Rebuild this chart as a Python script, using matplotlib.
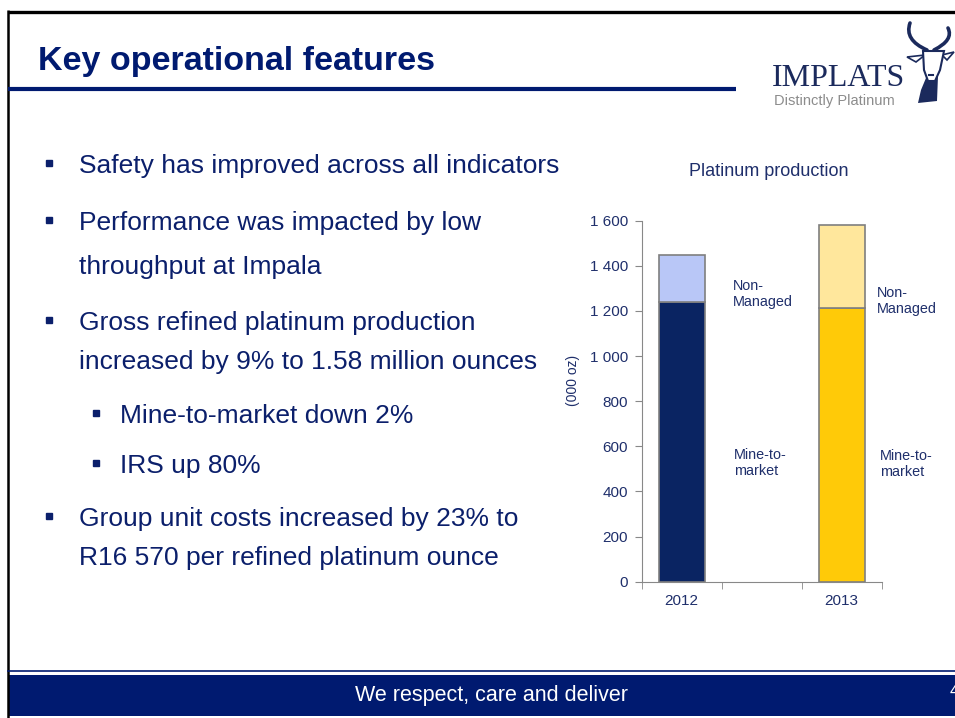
import numpy as np
import matplotlib
matplotlib.use('Agg')
import matplotlib.pyplot as plt
from matplotlib.patches import Rectangle, PathPatch, Polygon
from matplotlib.path import Path
from matplotlib.ticker import FuncFormatter

plt.rcParams['font.family'] = ['Liberation Sans', 'DejaVu Sans']

# chart data (000 oz)
years = ['2012', '', '2013']
mine_to_market = [1240, np.nan, 1212]
non_managed = [210, np.nan, 369]
y_ticks = [0, 200, 400, 600, 800, 1000, 1200, 1400, 1600]

# slide text
title = 'Key operational features'
bullet_lines = [
    (0, True, 'Safety has improved across all indicators'),
    (0, True, 'Performance was impacted by low'),
    (0, False, 'throughput at Impala'),
    (0, True, 'Gross refined platinum production'),
    (0, False, 'increased by 9% to 1.58 million ounces'),
    (1, True, 'Mine-to-market down 2%'),
    (1, True, 'IRS up 80%'),
    (0, True, 'Group unit costs increased by 23% to'),
    (0, False, 'R16 570 per refined platinum ounce'),
]
line_baselines = [173, 230, 274, 330, 369, 423, 473, 526, 565]
footer = 'We respect, care and deliver'

navy = '#001A70'
text_navy = '#0B1F6B'
chart_navy = '#1F2F6B'
logo_navy = '#1B2A5C'

fig = plt.figure(figsize=(9.55, 7.18), dpi=100)

# background layer in pixel coordinates
bg = fig.add_axes([0, 0, 1, 1])
bg.set_xlim(0, 955)
bg.set_ylim(718, 0)
bg.axis('off')

# slide frame
bg.plot([8, 8], [10, 718], color='black', lw=1.8, solid_capstyle='butt')
bg.plot([8, 955], [11.5, 11.5], color='black', lw=2.4, solid_capstyle='butt')
bg.plot([8, 736], [89, 89], color=navy, lw=3, solid_capstyle='butt')

bg.text(38, 70, title, fontsize=24.5, fontweight='bold', color=navy, va='baseline')

# logo
bg.text(772, 86, 'IMPLATS', fontsize=23, color=logo_navy, va='baseline',
        family=['Liberation Serif', 'DejaVu Serif'])
bg.text(774, 101, 'Distinctly Platinum', fontsize=10.5, color='#8C8C8C', va='center')
horn_l = Path([(927, 50), (904, 40), (910, 23)], [Path.MOVETO, Path.CURVE3, Path.CURVE3])
horn_r = Path([(934, 50), (954, 40), (948, 28)], [Path.MOVETO, Path.CURVE3, Path.CURVE3])
for p in (horn_l, horn_r):
    bg.add_patch(PathPatch(p, fc='none', ec=logo_navy, lw=2.6, capstyle='round'))
bg.add_patch(Polygon([(926, 78), (938, 76), (937, 101), (918, 103), (921, 90)],
                     closed=True, fc=logo_navy, ec='none'))
bg.add_patch(Polygon([(925, 55), (907, 57), (916, 62)], closed=True, fc='white', ec=logo_navy, lw=1.2))
bg.add_patch(Polygon([(942, 55), (954, 52), (947, 60)], closed=True, fc='white', ec=logo_navy, lw=1.2))
bg.add_patch(Polygon([(923, 51), (944, 51), (940, 70), (935, 81), (928, 81), (924, 70)],
                     closed=True, fc='white', ec=logo_navy, lw=1.5))
bg.plot([929, 933], [75, 75], color=logo_navy, lw=1.5)

# bullets
for (level, has_marker, line), yb in zip(bullet_lines, line_baselines):
    tx = 79 if level == 0 else 120
    mx = 48.5 if level == 0 else 96
    if has_marker:
        bg.plot(mx, yb - 10, marker='s', ms=4.8, color=text_navy, mec=text_navy)
    bg.text(tx, yb, line, fontsize=19, color=text_navy, va='baseline')

# footer
bg.plot([8, 955], [671, 671], color=navy, lw=1.2)
bg.add_patch(Rectangle((8, 675), 947, 41, fc=navy, ec='none'))
bg.text(491, 696, footer, fontsize=15.5, color='white', ha='center', va='center')
bg.text(950, 692, '4', fontsize=12, color='white', ha='left', va='center')

# chart
ax = fig.add_axes([641.7 / 955, (718 - 581.7) / 718, 240 / 955, 361 / 718])
ax.set_facecolor('none')
x = np.arange(len(years))
ax.bar(x, mine_to_market, width=0.58, color=['#0A2462', '#0A2462', '#FFCA08'],
       edgecolor='#7F7F7F', lw=1.2)
ax.bar(x, non_managed, width=0.58, bottom=mine_to_market,
       color=['#B9C7F7', '#B9C7F7', '#FFE79C'], edgecolor='#7F7F7F', lw=1.2)

ax.set_xlim(-0.5, len(years) - 0.5)
ax.set_ylim(0, 1600)
ax.set_yticks(y_ticks)
ax.yaxis.set_major_formatter(FuncFormatter(lambda v, p: f'{int(v):,}'.replace(',', ' ')))
ax.set_xticks(x)
ax.set_xticklabels(years)
ax.set_xticks(np.arange(-0.5, len(years), 1), minor=True)
ax.tick_params(axis='x', which='major', length=0, pad=9, labelsize=11, labelcolor=chart_navy)
ax.tick_params(axis='x', which='minor', length=5, color='#888888', direction='out')
ax.tick_params(axis='y', length=5, color='#888888', direction='out', pad=5,
               labelsize=11, labelcolor=chart_navy)
for s in ('top', 'right'):
    ax.spines[s].set_visible(False)
for s in ('left', 'bottom'):
    ax.spines[s].set_color('#888888')

# chart annotations
bg.text(769, 172, 'Platinum production', fontsize=13, color=chart_navy, ha='center', va='center')
bg.text(573, 380, '(000 oz)', fontsize=10, color=chart_navy, rotation=90, ha='center', va='center')
bg.text(733, 294, 'Non-\nManaged', fontsize=10.4, color=chart_navy, va='center', zorder=5)
bg.text(734, 463, 'Mine-to-\nmarket', fontsize=10.4, color=chart_navy, va='center', zorder=5)
bg.text(877, 301, 'Non-\nManaged', fontsize=10.4, color=chart_navy, va='center', zorder=5)
bg.text(880, 464, 'Mine-to-\nmarket', fontsize=10.4, color=chart_navy, va='center', zorder=5)

fig.savefig('out.png', dpi=100)
